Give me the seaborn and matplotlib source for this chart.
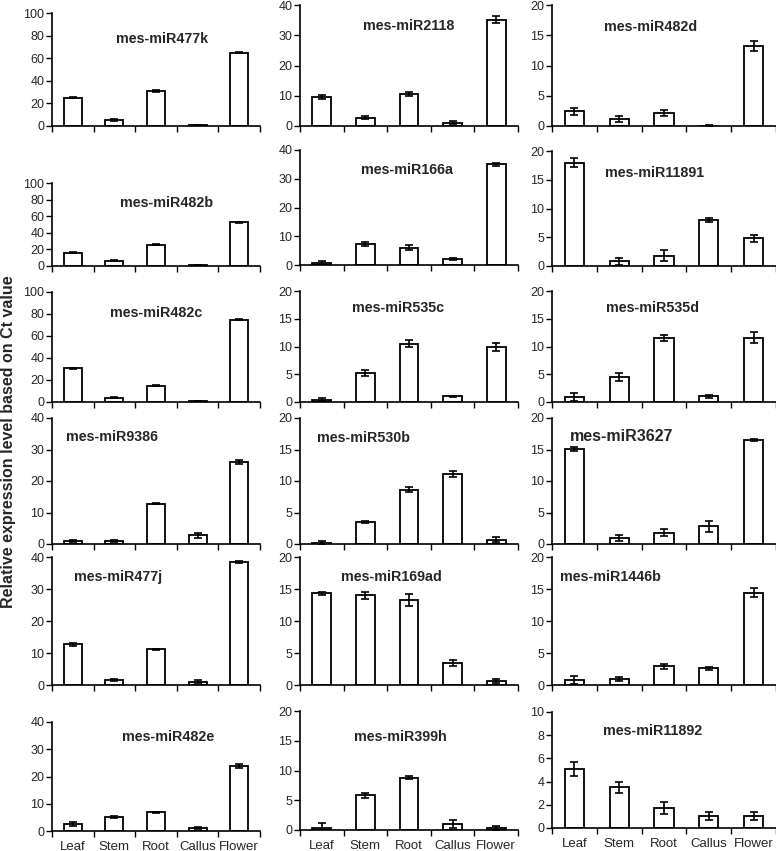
import matplotlib
matplotlib.use("Agg")
import matplotlib.pyplot as plt
import seaborn as sns
import pandas as pd
import numpy as np

sns.set_theme(style="ticks")
plt.rcParams['font.family'] = ['Liberation Sans', 'DejaVu Sans']

tissues = ["Leaf", "Stem", "Root", "Callus", "Flower"]

# values and errors per miRNA
miR477k = [25.0, 5.0, 31.0, 1.0, 65.0];      miR477k_err = [0.6, 1.0, 0.8, 0.3, 0.8]
miR2118 = [9.5, 2.8, 10.6, 1.0, 35.2];       miR2118_err = [0.6, 0.6, 0.6, 0.5, 1.1]
miR482d = [2.4, 1.2, 2.2, 0.0, 13.2];        miR482d_err = [0.5, 0.5, 0.5, 0.1, 0.8]
miR482b = [16.0, 6.5, 25.5, 1.0, 52.5];      miR482b_err = [0.8, 0.8, 0.8, 0.3, 0.8]
miR166a = [0.8, 7.3, 6.0, 2.1, 35.0];        miR166a_err = [0.6, 0.6, 0.9, 0.3, 0.5]
miR11891 = [18.0, 0.8, 1.8, 8.0, 4.8];       miR11891_err = [0.8, 0.6, 0.9, 0.3, 0.6]
miR482c = [30.5, 4.0, 15.0, 0.8, 75.0];      miR482c_err = [0.3, 0.3, 0.5, 0.2, 0.8]
miR535c = [0.4, 5.2, 10.5, 1.0, 9.9];        miR535c_err = [0.3, 0.5, 0.6, 0.1, 0.7]
miR535d = [0.9, 4.5, 11.5, 1.0, 11.6];       miR535d_err = [0.8, 0.8, 0.5, 0.2, 1.0]
miR9386 = [1.0, 1.0, 12.8, 2.8, 26.0];       miR9386_err = [0.4, 0.4, 0.2, 0.8, 0.6]
miR530b = [0.2, 3.5, 8.6, 11.1, 0.7];        miR530b_err = [0.3, 0.2, 0.4, 0.5, 0.4]
miR3627 = [15.1, 1.0, 1.8, 2.8, 16.5];       miR3627_err = [0.3, 0.5, 0.6, 0.9, 0.2]
miR477j = [12.7, 1.5, 11.1, 1.0, 38.3];      miR477j_err = [0.5, 0.3, 0.3, 0.5, 0.3]
miR169ad = [14.3, 14.0, 13.3, 3.4, 0.6];     miR169ad_err = [0.3, 0.5, 0.9, 0.5, 0.3]
miR1446b = [0.8, 1.0, 2.9, 2.6, 14.4];       miR1446b_err = [0.6, 0.3, 0.4, 0.2, 0.7]
miR482e = [2.6, 5.0, 6.8, 1.0, 23.8];        miR482e_err = [0.6, 0.4, 0.3, 0.3, 0.8]
miR399h = [0.4, 5.8, 8.8, 1.0, 0.3];         miR399h_err = [0.8, 0.5, 0.2, 0.6, 0.3]
miR11892 = [5.1, 3.5, 1.7, 1.0, 1.0];        miR11892_err = [0.6, 0.5, 0.5, 0.35, 0.35]

titles = ["mes-miR477k", "mes-miR2118", "mes-miR482d",
          "mes-miR482b", "mes-miR166a", "mes-miR11891",
          "mes-miR482c", "mes-miR535c", "mes-miR535d",
          "mes-miR9386", "mes-miR530b", "mes-miR3627",
          "mes-miR477j", "mes-miR169ad", "mes-miR1446b",
          "mes-miR482e", "mes-miR399h", "mes-miR11892"]
values = [miR477k, miR2118, miR482d, miR482b, miR166a, miR11891,
          miR482c, miR535c, miR535d, miR9386, miR530b, miR3627,
          miR477j, miR169ad, miR1446b, miR482e, miR399h, miR11892]
errors = [miR477k_err, miR2118_err, miR482d_err, miR482b_err, miR166a_err, miR11891_err,
          miR482c_err, miR535c_err, miR535d_err, miR9386_err, miR530b_err, miR3627_err,
          miR477j_err, miR169ad_err, miR1446b_err, miR482e_err, miR399h_err, miR11892_err]
ymax = [100, 40, 20, 100, 40, 20, 100, 20, 20, 40, 20, 20, 40, 20, 20, 40, 20, 10]
ystep = [20, 10, 5, 20, 10, 5, 20, 5, 5, 10, 5, 5, 10, 5, 5, 10, 5, 2]

W, H = 776, 851
fig = plt.figure(figsize=(W / 100, H / 100), dpi=100)

# panel pixel boxes: (left, top, right, bottom)
cols = [(52, 260), (300, 518), (552, 776)]
rows_tb = [
    [(13, 126), (5, 126), (5, 126)],
    [(183, 266), (150, 265), (151, 266)],
    [(292, 402), (291, 402), (291, 402)],
    [(418, 544), (418, 544), (418, 544)],
    [(557, 685), (557, 685), (557, 685)],
    [(722, 831), (711, 830), (712, 828)],
]
title_pos = [(0.53, 0.77), (0.50, 0.83), (0.44, 0.82),
             (0.55, 0.76), (0.49, 0.83), (0.46, 0.81),
             (0.50, 0.81), (0.45, 0.85), (0.45, 0.85),
             (0.29, 0.85), (0.29, 0.84), (0.31, 0.85),
             (0.32, 0.84), (0.42, 0.84), (0.26, 0.84),
             (0.56, 0.86), (0.46, 0.78), (0.45, 0.84)]

for i in range(18):
    r, c = divmod(i, 3)
    l, rr = cols[c]
    t, b = rows_tb[r][c]
    ax = fig.add_axes([l / W, 1 - b / H, (rr - l) / W, (b - t) / H])
    df = pd.DataFrame({"tissue": tissues, "value": values[i], "err": errors[i]})
    sns.barplot(data=df, x="tissue", y="value", ax=ax, color="white",
                edgecolor="black", linewidth=1.3, width=0.43, errorbar=None,
                saturation=1)
    ax.errorbar(x=np.arange(len(tissues)), y=df["value"], yerr=df["err"],
                fmt="none", ecolor="black", elinewidth=1.2, capsize=2.8,
                capthick=1.2)
    ax.set_xlim(-0.5, len(tissues) - 0.5)
    ax.set_ylim(0, ymax[i])
    ax.set_yticks(np.arange(0, ymax[i] + 0.01, ystep[i]))
    ax.set_xticks(np.arange(-0.5, len(tissues), 1.0))
    ax.set_xticks(np.arange(len(tissues)), minor=True)
    ax.set_xticklabels([])
    if r == 5:
        ax.set_xticklabels(tissues, minor=True, fontsize=9.5)
    ax.tick_params(axis="x", which="major", direction="out", length=4, width=1,
                   color="black")
    ax.tick_params(axis="x", which="minor", length=0, pad=7)
    ax.tick_params(axis="y", direction="out", length=4, width=1, color="black",
                   labelsize=9, pad=1.5)
    ax.set_xlabel("")
    ax.set_ylabel("")
    for s in ["top", "right"]:
        ax.spines[s].set_visible(False)
    for s in ["left", "bottom"]:
        ax.spines[s].set_color("black")
        ax.spines[s].set_linewidth(1.2)
    fs = 11.5 if titles[i] == "mes-miR3627" else 10.3
    ax.text(title_pos[i][0], title_pos[i][1], titles[i], transform=ax.transAxes,
            ha="center", va="center", fontsize=fs, fontweight="bold")

fig.text(9 / W, 1 - 442 / H, "Relative expression level based on Ct value",
         rotation=90, ha="center", va="center", fontsize=11.5, fontweight="bold")

fig.savefig("out.png", dpi=100)
